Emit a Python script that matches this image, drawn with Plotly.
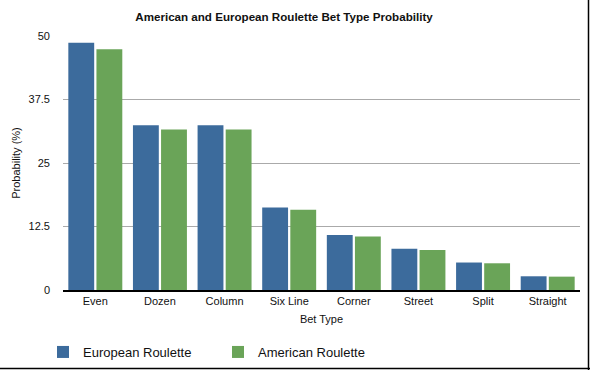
import plotly.graph_objects as go

categories = ["Even", "Dozen", "Column", "Six Line", "Corner", "Street", "Split", "Straight"]
european = [48.65, 32.43, 32.43, 16.22, 10.81, 8.11, 5.41, 2.70]
american = [47.37, 31.58, 31.58, 15.79, 10.53, 7.89, 5.26, 2.63]
y_ticks = [0, 12.5, 25, 37.5, 50]
y_tick_labels = ["0", "12.5", "25", "37.5", "50"]

FONT = "Liberation Sans, Arial, Helvetica, sans-serif"

fig = go.Figure()
fig.add_trace(go.Bar(name="European Roulette", x=categories, y=european,
                     marker=dict(color="#3c6b9c", line=dict(width=0))))
fig.add_trace(go.Bar(name="American Roulette", x=categories, y=american,
                     marker=dict(color="#6aa458", line=dict(width=0))))

fig.update_layout(
    width=590, height=370,
    margin=dict(l=63, r=10, t=36, b=80, autoexpand=False),
    paper_bgcolor="white", plot_bgcolor="white",
    font=dict(family=FONT, size=11, color="#111"),
    barmode="group", bargap=0.13, bargroupgap=0.08,
    title=dict(text="<b>American and European Roulette Bet Type Probability</b>",
               x=284/590, xanchor="center", y=1-17/370, yanchor="middle",
               font=dict(size=11.6, color="#111"), automargin=False),
    xaxis=dict(title=dict(text="Bet Type", standoff=9, font=dict(size=11)),
               showline=True, linecolor="black", linewidth=1.5,
               ticks="", tickfont=dict(size=11), automargin=False),
    yaxis=dict(title=dict(text="Probability (%)", standoff=5, font=dict(size=11)),
               range=[0, 50], tickvals=y_ticks, ticktext=y_tick_labels,
               showgrid=True, gridcolor="#aaaaaa", gridwidth=1,
               zeroline=False, ticks="", tickfont=dict(size=11),
               ticklabelstandoff=12, automargin=False),
    legend=dict(orientation="h", x=-20/517, xanchor="left",
                y=-47/254, yanchor="top", bgcolor="rgba(0,0,0,0)",
                font=dict(size=13), itemwidth=30, traceorder="normal",
                entrywidthmode="pixels", entrywidth=130),
    shapes=[
        dict(type="line", xref="paper", yref="paper",
             x0=(588.5-63)/517, x1=(588.5-63)/517, y0=-80/254, y1=36/254+1,
             line=dict(color="black", width=1.5)),
        dict(type="line", xref="paper", yref="paper",
             x0=-63/517, x1=(590-63)/517, y0=-(368.5-290)/254, y1=-(368.5-290)/254,
             line=dict(color="black", width=1.5)),
    ],
)

fig.write_html("out.html", config={"displayModeBar": False},
               post_script="document.body.style.margin='0';document.body.style.padding='0';")
